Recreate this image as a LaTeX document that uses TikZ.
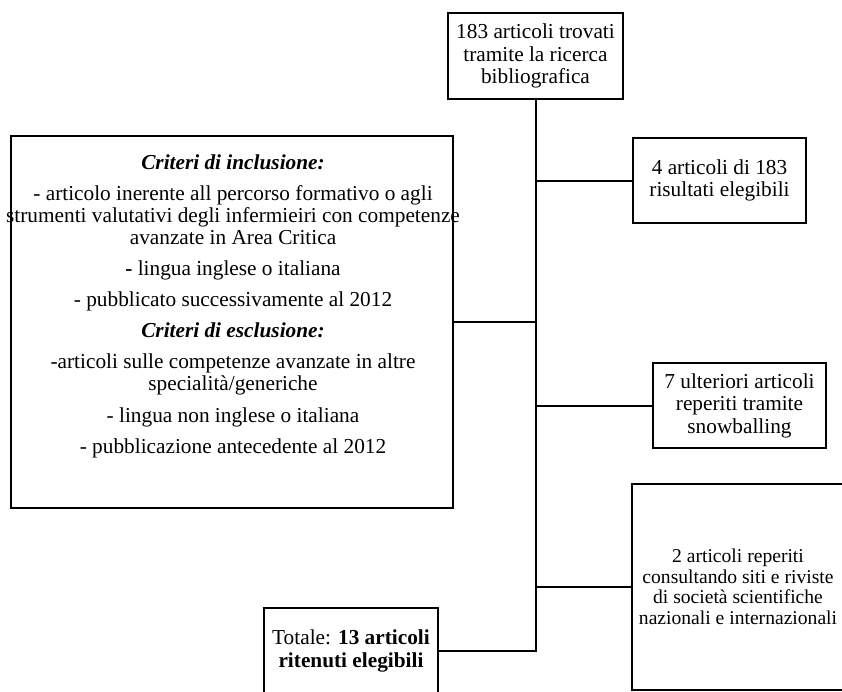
\documentclass[tikz,border=0pt]{standalone}
\usepackage{fontspec}
\setmainfont{Liberation Serif}
\begin{document}
\begin{tikzpicture}[x=1pt,y=-1pt,
  box/.style={draw=black, line width=2pt, fill=white, inner sep=0pt, align=center,
    font=\fontsize{21.3}{22.5}\selectfont},
  txt/.style={inner sep=0pt, align=center, font=\fontsize{21.3}{22}\selectfont},
  link/.style={draw=black, line width=2pt}]
\clip (0,0) rectangle (842,691);
\fill[white] (0,0) rectangle (842,691);

\node[box, minimum width=175, minimum height=86] (top) at (535.5,56)
  {183 articoli trovati\\tramite la ricerca\\bibliografica};
\node[box, minimum width=173, minimum height=85] (b1) at (719.5,180.5)
  {4 articoli di 183\\risultati elegibili};
\node[box, minimum width=173, minimum height=85] (b2) at (739.5,405.5)
  {7 ulteriori articoli\\reperiti tramite\\snowballing};
\node[box, minimum width=212, minimum height=206, font=\fontsize{19.6}{20.5}\selectfont] (b3) at (738,587)
  {2 articoli reperiti\\consultando siti e riviste\\di società scientifiche\\nazionali e internazionali};
\node[box, minimum width=174, minimum height=86] (bot) at (351,651)
  {Totale: \textbf{13 articoli}\\\textbf{ritenuti elegibili}};
\node[box, minimum width=442, minimum height=372] (lbox) at (232,322) {};
\node[txt, anchor=north] (ltext) at (233,155)
  {\textbf{\textit{Criteri di inclusione:}}\\[9pt]
   - articolo inerente all percorso formativo o agli\\
   strumenti valutativi degli infermieiri con competenze\\
   avanzate in Area Critica\\[9pt]
   \textbf{-} lingua inglese o italiana\\[9pt]
   - pubblicato successivamente al 2012\\[9pt]
   \textbf{\textit{Criteri di esclusione:}}\\[9pt]
   -articoli sulle competenze avanzate in altre\\
   specialità/generiche\\[10pt]
   - lingua non inglese o italiana\\[9pt]
   - pubblicazione antecedente al 2012};

\draw[link] (top.south) -- (top.south |- bot.east) -- (bot.east);
\draw[link] (top.south |- b1.west) -- (b1.west);
\draw[link] (lbox.east) -- (top.south |- lbox.east);
\draw[link] (top.south |- b2.west) -- (b2.west);
\draw[link] (top.south |- b3.west) -- (b3.west);
\end{tikzpicture}
\end{document}
